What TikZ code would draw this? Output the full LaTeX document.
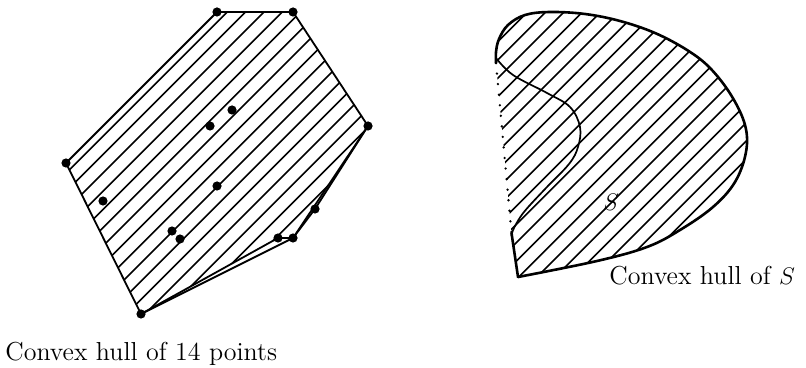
\documentclass[tikz,border=0pt]{standalone}
\usetikzlibrary{calc}

\begin{document}
\begin{tikzpicture}[
    x=0.5pt, y=-0.5pt,
    font=\fontsize{13}{15}\selectfont,
    hull/.style={line width=0.9pt, line join=round},
    hatch/.style={line width=0.8pt},
    pt/.style={circle, fill=black, inner sep=0pt, minimum size=4.6pt},
    sedge/.style={line width=1.3pt, line join=round, line cap=round},
    scurve/.style={line width=0.85pt},
    dotln/.style={line width=1.3pt, line cap=round, dash pattern=on 0pt off 5.3pt},
    lbl/.style={anchor=base west, inner sep=0pt}
]
\useasboundingbox (0,0) rectangle (806,368);

% left: 14 points
\coordinate (p1) at (217,12);
\coordinate (p2) at (293,12);
\coordinate (p3) at (368,126);
\coordinate (p4) at (315,209);
\coordinate (p5) at (293,238);
\coordinate (p6) at (278,238);
\coordinate (p7) at (141,314);
\coordinate (p8) at (66,163);
\coordinate (p9) at (232,110);
\coordinate (p10) at (210,126);
\coordinate (p11) at (217,186);
\coordinate (p12) at (103,201);
\coordinate (p13) at (172,231);
\coordinate (p14) at (180,239);

\begin{scope}
  \clip (p1) -- (p2) -- (p3) -- (p5) -- (p6) -- (p7) -- (p8) -- cycle;
  \foreach \k in {0,...,17}
    \draw[hatch] ({221+18.3*\k},0) -- ({221+18.3*\k-368},368);
\end{scope}
\draw[hull] (p1) -- (p2) -- (p3) -- (p5) -- (p6) -- (p7) -- (p8) -- cycle;
\draw[hull] (p3) -- (p4) -- (p5) -- (p7);
\foreach \i in {1,...,14}
  \node[pt] (d\i) at (p\i) {};

\node[lbl] (cap1) at (5,360) {Convex hull of 14 points};

% right: set S and its hull
\def\outerS{plot[smooth, tension=0.6] coordinates {(518,277) (597,261) (647,247) (680,230) (713,207) (735,182) (746,152) (745,125) (731,95) (710,68) (687,50) (655,33) (620,21) (585,14) (550,12) (525,15) (508,25) (499,39) (496,52) (496,63)}}
\coordinate (apex) at (518,277);
\coordinate (htop) at (496,63);
\coordinate (hbot) at (511.5,233);

\begin{scope}
  \clip \outerS -- (hbot) -- cycle;
  \foreach \k in {0,...,22}
    \draw[hatch] ({539.5+18.3*\k},0) -- ({539.5+18.3*\k-368},368);
\end{scope}
\draw[sedge] \outerS;
\draw[sedge] (hbot) -- (apex);
\draw[scurve] plot[smooth, tension=0.6] coordinates {(496,58) (513,75) (547,93) (570,107) (580,127) (578,147) (569,164) (546,188) (524,212) (514,228) (511.5,236)};
\draw[dotln] (htop) -- (hbot);

\node (slbl) at (611,202) {$S$};
\node[lbl] (cap2) at (609,285) {Convex hull of $S$};
\end{tikzpicture}
\end{document}
